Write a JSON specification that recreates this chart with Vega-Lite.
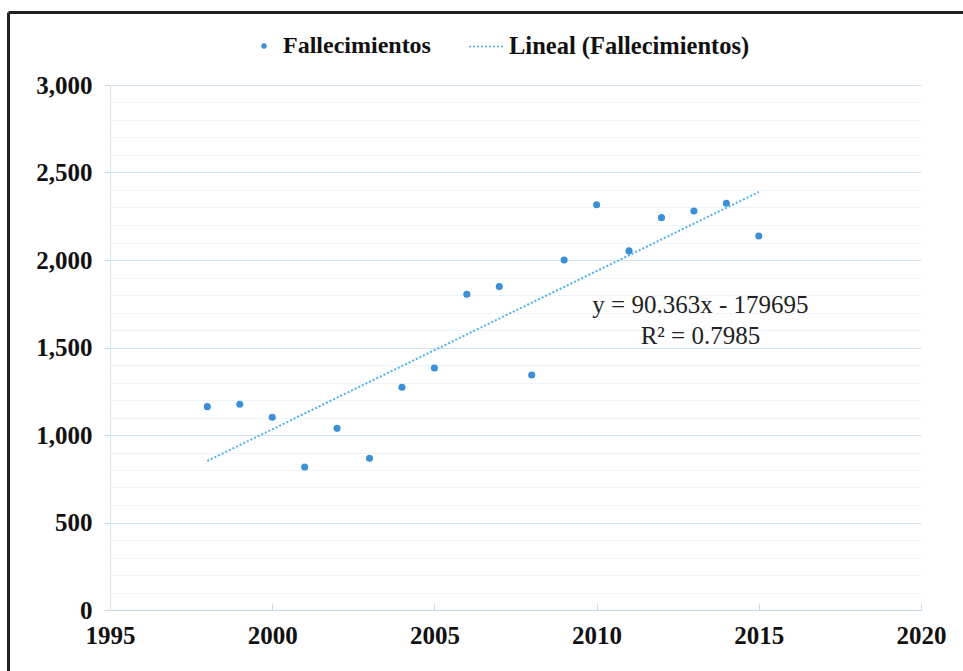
{
  "$schema": "https://vega.github.io/schema/vega-lite/v6.json",
  "width": 811,
  "height": 525,
  "autosize": {"type": "none"},
  "padding": {"left": 110, "top": 85, "right": 42, "bottom": 61},
  "background": "white",
  "config": {
    "view": {"stroke": null},
    "font": "Liberation Serif",
    "axis": {"labelFont": "Liberation Serif"},
    "legend": {"labelFont": "Liberation Serif"}
  },
  "data": {
    "values": [
      {"year": 1998, "value": 1162, "series": "Fallecimientos"},
      {"year": 1999, "value": 1176, "series": "Fallecimientos"},
      {"year": 2000, "value": 1101, "series": "Fallecimientos"},
      {"year": 2001, "value": 817, "series": "Fallecimientos"},
      {"year": 2002, "value": 1038, "series": "Fallecimientos"},
      {"year": 2003, "value": 867, "series": "Fallecimientos"},
      {"year": 2004, "value": 1273, "series": "Fallecimientos"},
      {"year": 2005, "value": 1383, "series": "Fallecimientos"},
      {"year": 2006, "value": 1804, "series": "Fallecimientos"},
      {"year": 2007, "value": 1848, "series": "Fallecimientos"},
      {"year": 2008, "value": 1343, "series": "Fallecimientos"},
      {"year": 2009, "value": 2000, "series": "Fallecimientos"},
      {"year": 2010, "value": 2316, "series": "Fallecimientos"},
      {"year": 2011, "value": 2052, "series": "Fallecimientos"},
      {"year": 2012, "value": 2242, "series": "Fallecimientos"},
      {"year": 2013, "value": 2280, "series": "Fallecimientos"},
      {"year": 2014, "value": 2324, "series": "Fallecimientos"},
      {"year": 2015, "value": 2137, "series": "Fallecimientos"}
    ]
  },
  "resolve": {
    "scale": {"x": "independent", "y": "independent"},
    "axis": {"x": "independent", "y": "independent"}
  },
  "layer": [
    {
      "layer": [
        {
          "mark": {"type": "point", "filled": true, "opacity": 1, "size": 50},
          "encoding": {
            "x": {
              "field": "year",
              "type": "quantitative",
              "scale": {"domain": [1995, 2020], "nice": false, "zero": false},
              "axis": {
                "title": null,
                "values": [1995, 2000, 2005, 2010, 2015, 2020],
                "format": "d",
                "grid": false,
                "domainColor": "#c5d9ea",
                "domainWidth": 1,
                "tickColor": "#c5d9ea",
                "tickSize": -6,
                "labelFont": "Liberation Serif",
                "labelFontWeight": "bold",
                "labelFontSize": 25,
                "labelColor": "#111111",
                "labelPadding": 19,
                "labelFlush": false,
                "labelOverlap": false
              }
            },
            "y": {
              "field": "value",
              "type": "quantitative",
              "scale": {"domain": [0, 3000], "nice": false},
              "axis": {
                "title": null,
                "values": [0, 100, 200, 300, 400, 500, 600, 700, 800, 900, 1000, 1100, 1200, 1300, 1400, 1500, 1600, 1700, 1800, 1900, 2000, 2100, 2200, 2300, 2400, 2500, 2600, 2700, 2800, 2900, 3000],
                "tickCount": 100,
                "labelExpr": "datum.value % 500 === 0 ? format(datum.value, ',') : ''",
                "labelOverlap": false,
                "grid": true,
                "gridColor": {"condition": {"test": "datum.value % 500 === 0", "value": "#d3e4f1"}, "value": "#edf3f8"},
                "gridWidth": 1,
                "domainColor": "#d5e3ee",
                "tickColor": {"condition": {"test": "datum.value % 500 === 0", "value": "#c5d9ea"}, "value": "transparent"},
                "tickSize": 6,
                "labelFont": "Liberation Serif",
                "labelFontWeight": "bold",
                "labelFontSize": 25,
                "labelColor": "#111111",
                "labelPadding": 12
              }
            },
            "color": {
              "field": "series",
              "type": "nominal",
              "scale": {
                "domain": ["Fallecimientos"],
                "range": ["#3a8fd6"]
              },
              "legend": {
                "title": null,
                "orient": "none",
                "legendX": 142,
                "legendY": -51,
                "labelFont": "Liberation Serif",
                "labelFontWeight": "bold",
                "labelFontSize": 24,
                "labelColor": "#111111",
                "labelLimit": 400,
                "symbolType": "circle",
                "symbolSize": 30,
                "labelOffset": 7
              }
            }
          }
        },
        {
          "transform": [
            {"regression": "value", "on": "year", "extent": [1998, 2015]}
          ],
          "mark": {"type": "line", "strokeWidth": 2, "color": "#4bb2ea"},
          "encoding": {
            "x": {"field": "year", "type": "quantitative"},
            "y": {"field": "value", "type": "quantitative"},
            "strokeDash": {
              "datum": "Lineal (Fallecimientos)",
              "type": "nominal",
              "scale": {"domain": ["Lineal (Fallecimientos)"], "range": [[2, 2]]},
              "legend": {
                "title": null,
                "orient": "none",
                "legendX": 358,
                "legendY": -57,
                "labelFont": "Liberation Serif",
                "labelFontWeight": "bold",
                "labelFontSize": 24.5,
                "labelColor": "#111111",
                "labelLimit": 400,
                "labelOffset": 4,
                "symbolType": "stroke",
                "symbolSize": 1225,
                "symbolStrokeWidth": 1.5,
                "symbolStrokeColor": "#4bb2ea",
                "symbolDash": [1.5, 1.5]
              }
            }
          }
        },
        {
          "data": {
            "values": [
              {"year": 2013.2, "value": 1745, "label": "y = 90.363x - 179695"},
              {"year": 2013.2, "value": 1568, "label": "R² = 0.7985"}
            ]
          },
          "mark": {"type": "text", "font": "Liberation Serif", "fontSize": 25, "color": "#222222", "align": "center", "baseline": "middle"},
          "encoding": {
            "x": {"field": "year", "type": "quantitative"},
            "y": {"field": "value", "type": "quantitative"},
            "text": {"field": "label"}
          }
        }
      ]
    },
    {
      "mark": {"type": "point", "opacity": 0},
      "encoding": {
        "x": {
          "field": "year",
          "type": "quantitative",
          "scale": {"range": [-102, 856]},
          "axis": {
            "orient": "top",
            "offset": 73,
            "title": null,
            "labels": false,
            "ticks": false,
            "grid": false,
            "domainColor": "#222222",
            "domainWidth": 3
          }
        },
        "y": {
          "field": "value",
          "type": "quantitative",
          "scale": {"range": [590, -73]},
          "axis": {
            "orient": "left",
            "offset": 102,
            "title": null,
            "labels": false,
            "ticks": false,
            "grid": false,
            "domainColor": "#222222",
            "domainWidth": 3
          }
        }
      }
    }
  ]
}
